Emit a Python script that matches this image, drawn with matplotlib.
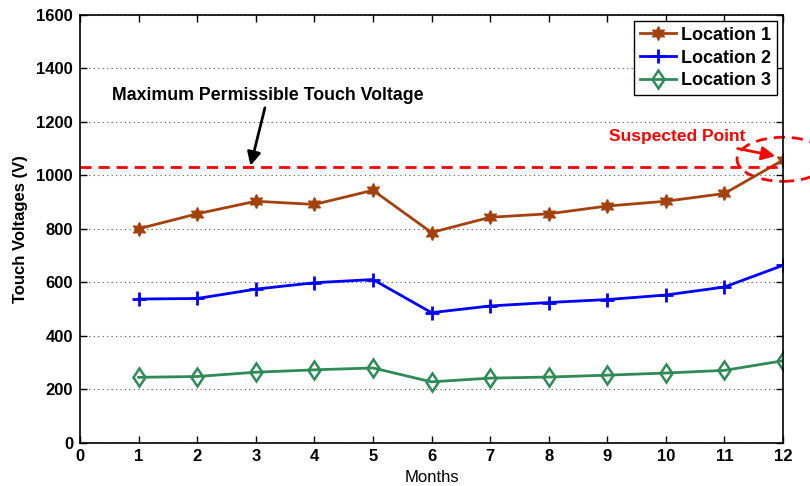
import numpy as np
import matplotlib.pyplot as plt
from matplotlib.patches import Ellipse

plt.rcParams['font.family'] = ['Liberation Sans', 'DejaVu Sans']

months = [1, 2, 3, 4, 5, 6, 7, 8, 9, 10, 11, 12]
loc1 = [800, 856, 903, 891, 944, 786, 843, 856, 885, 903, 932, 1057]
loc2 = [537, 539, 574, 598, 610, 486, 511, 524, 535, 552, 582, 663]
loc3 = [244, 247, 263, 272, 279, 227, 241, 245, 252, 260, 270, 306]
max_touch = 1032
labels = ['Location 1', 'Location 2', 'Location 3']

fig = plt.figure(figsize=(8.1, 4.86), dpi=100)
ax = fig.add_axes([0.0988, 0.0895, 0.8679, 0.8796])

ax.plot(months, loc1, '-', color='#A3420E', lw=2, marker=(6, 1, 0), ms=10,
        mfc='#A3420E', mec='#A3420E', label=labels[0])
ax.plot(months, loc2, '-', color='#0000FF', lw=2, marker='+', ms=10, mew=2,
        label=labels[1])
ax.plot(months, loc3, '-', color='#2E8B57', lw=2, marker='d', ms=9.5, mew=1.8,
        mfc='none', mec='#2E8B57', label=labels[2])

# permissible limit
ax.plot([0, 12], [max_touch, max_touch], '--', color='#FF0000', lw=2,
        dashes=(4, 2.5))

ax.annotate('Maximum Permissible Touch Voltage', xy=(2.91, 1036), xytext=(3.21, 1300),
            ha='center', va='center', fontsize=12.8, fontweight='bold',
            arrowprops=dict(arrowstyle='-|>', color='black', lw=2,
                            mutation_scale=20, shrinkA=1, shrinkB=0))
ax.annotate('Suspected Point', xy=(11.87, 1072), xytext=(10.19, 1146),
            ha='center', va='center', fontsize=12.5, fontweight='bold', color='#FF0000',
            arrowprops=dict(arrowstyle='-|>', color='#FF0000', lw=2,
                            mutation_scale=20, shrinkA=7, shrinkB=0))
ell = Ellipse((12, 1060), 1.57, 165, fill=False, ec='#FF0000', lw=2,
              ls=(0, (4, 2.5)), clip_on=False)
ax.add_patch(ell)

ax.set_xlim(0, 12)
ax.set_ylim(0, 1600)
ax.set_xticks(range(0, 13))
ax.set_yticks(range(0, 1601, 200))
ax.yaxis.grid(True, linestyle=(0, (1, 3)), color='#555555', lw=0.8)
ax.tick_params(direction='in', top=True, right=True, length=5, width=1,
               labelsize=12, pad=5)
for t in ax.get_xticklabels() + ax.get_yticklabels():
    t.set_fontweight('bold')
for s in ax.spines.values():
    s.set_linewidth(1.2)

ax.set_xlabel('Months', fontsize=12, labelpad=4)
ax.set_ylabel('Touch Voltages (V)', fontsize=12, fontweight='bold', labelpad=6)

leg = ax.legend(loc='upper right', prop={'weight': 'bold', 'size': 13},
                fancybox=False, edgecolor='black', framealpha=1,
                borderpad=0.3, labelspacing=0.32, handlelength=2.0,
                handletextpad=0.3, borderaxespad=0.35)
leg.get_frame().set_linewidth(1)

fig.savefig('out.png', dpi=100)
